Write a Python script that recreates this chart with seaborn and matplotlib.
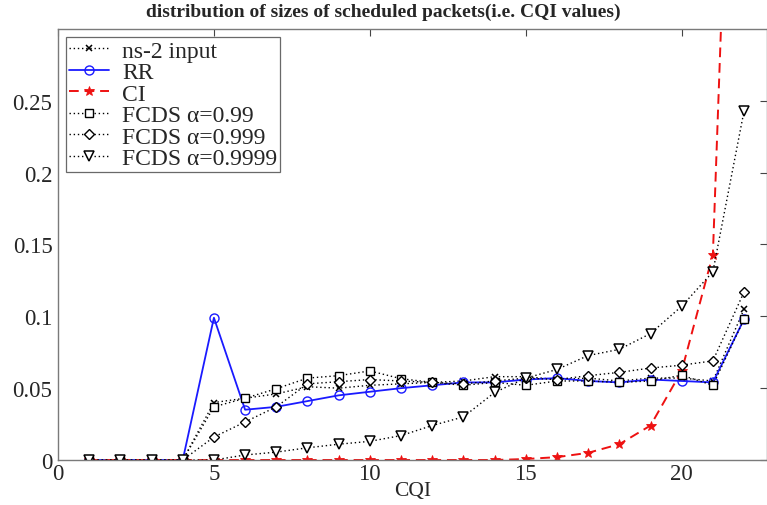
import numpy as np
import pandas as pd
import matplotlib
matplotlib.use("Agg")
import matplotlib.pyplot as plt
import seaborn as sns

cqi = list(range(1, 23))

ns2_input = [0, 0, 0, 0, 0.040, 0.043, 0.046, 0.051, 0.050, 0.052, 0.053, 0.054,
             0.055, 0.058, 0.058, 0.056, 0.057, 0.055, 0.057, 0.057, 0.055, 0.105]
rr = [0, 0, 0, 0, 0.099, 0.035, 0.037, 0.041, 0.045, 0.0475, 0.050, 0.052,
      0.054, 0.054, 0.056, 0.057, 0.055, 0.054, 0.056, 0.055, 0.054, 0.098]
ci = [0, 0, 0, 0, 0, 0, 0, 0, 0, 0, 0, 0,
      0, 0, 0.0007, 0.002, 0.005, 0.011, 0.024, 0.062, 0.143, 0.75]
fcds_099 = [0, 0, 0, 0, 0.037, 0.043, 0.0496, 0.057, 0.0587, 0.062, 0.0566, 0.054,
            0.052, 0.054, 0.052, 0.055, 0.055, 0.054, 0.055, 0.059, 0.052, 0.098]
fcds_0999 = [0, 0, 0, 0, 0.016, 0.0265, 0.037, 0.053, 0.0545, 0.056, 0.055, 0.054,
             0.053, 0.055, 0.057, 0.056, 0.0587, 0.061, 0.064, 0.066, 0.069, 0.117]
fcds_09999 = [0, 0, 0, 0, 0.0, 0.0035, 0.0055, 0.0085, 0.011, 0.013, 0.017, 0.024,
              0.030, 0.047, 0.057, 0.063, 0.0727, 0.077, 0.088, 0.107, 0.131, 0.243]

labels = ["ns-2 input", "RR", "CI", "FCDS α=0.99",
          "FCDS α=0.999", "FCDS α=0.9999"]

sns.set_style("white")
plt.rcParams["font.family"] = ["Liberation Serif", "DejaVu Serif"]

fig = plt.figure(figsize=(7.67, 5.06), dpi=100)
ax = fig.add_axes([0.0756, 0.0889, 0.925, 0.852])

dots = (0, (1, 2))
series = [
    (ns2_input, dict(color="black", linestyle=dots, marker="x", markersize=5,
                     markerfacecolor="none", markeredgecolor="black",
                     markeredgewidth=1.1, linewidth=1.0)),
    (rr, dict(color="#1a1aff", linestyle="-", marker="o", markersize=6.5,
              markerfacecolor="none", markeredgecolor="#1a1aff",
              markeredgewidth=1.0, linewidth=1.3)),
    (ci, dict(color="#ee1111", linestyle=(0, (5, 3)), marker="*", markersize=7.5,
              markerfacecolor="#ee1111", markeredgecolor="#ee1111",
              markeredgewidth=0.6, linewidth=1.4)),
    (fcds_099, dict(color="black", linestyle=dots, marker="s", markersize=6,
                    markerfacecolor="white", markeredgecolor="black",
                    markeredgewidth=1.0, linewidth=1.0)),
    (fcds_0999, dict(color="black", linestyle=dots, marker="D", markersize=5,
                     markerfacecolor="white", markeredgecolor="black",
                     markeredgewidth=1.0, linewidth=1.0)),
    (fcds_09999, dict(color="black", linestyle=dots, marker="v", markersize=7.5,
                      markerfacecolor="white", markeredgecolor="black",
                      markeredgewidth=1.1, linewidth=1.0)),
]

handles = []
for (vals, style), lab in zip(series, labels):
    df = pd.DataFrame({"CQI": cqi, "share": vals})
    before = len(ax.lines)
    sns.lineplot(data=df, x="CQI", y="share", ax=ax, color=style["color"],
                 legend=False)
    line = ax.lines[before]
    line.set(**style)
    line.set_label(lab)
    handles.append(line)

ax.set_xlim(0, 22.75)
ax.set_ylim(0, 0.30)
ax.set_xticks([0, 5, 10, 15, 20])
ax.set_yticks([0, 0.05, 0.1, 0.15, 0.2, 0.25])
ax.set_yticklabels(["0", "0.05", "0.1", "0.15", "0.2", "0.25"])
ax.tick_params(direction="in", top=True, right=True, labelsize=16.5, length=5,
               color="#444444", width=0.8, pad=4)
ax.tick_params(axis="x", pad=2)
for sp in ax.spines.values():
    sp.set_color("#7a7a7a")
    sp.set_linewidth(1.0)

ax.set_xlabel("CQI", fontsize=15.5, labelpad=-2)
ax.set_ylabel("")
fig.text(0.5, 0.976, "distribution of sizes of scheduled packets(i.e. CQI values)",
         ha="center", va="center", fontsize=14, fontweight="bold")

leg = ax.legend(handles=handles, labels=labels, loc="upper left", fontsize=17,
                frameon=True, fancybox=False, edgecolor="#444444",
                borderpad=0.12, labelspacing=0.0, handlelength=1.7,
                handletextpad=0.55, borderaxespad=0.35)
leg.get_frame().set_linewidth(0.9)

fig.savefig("out.png", dpi=100)
